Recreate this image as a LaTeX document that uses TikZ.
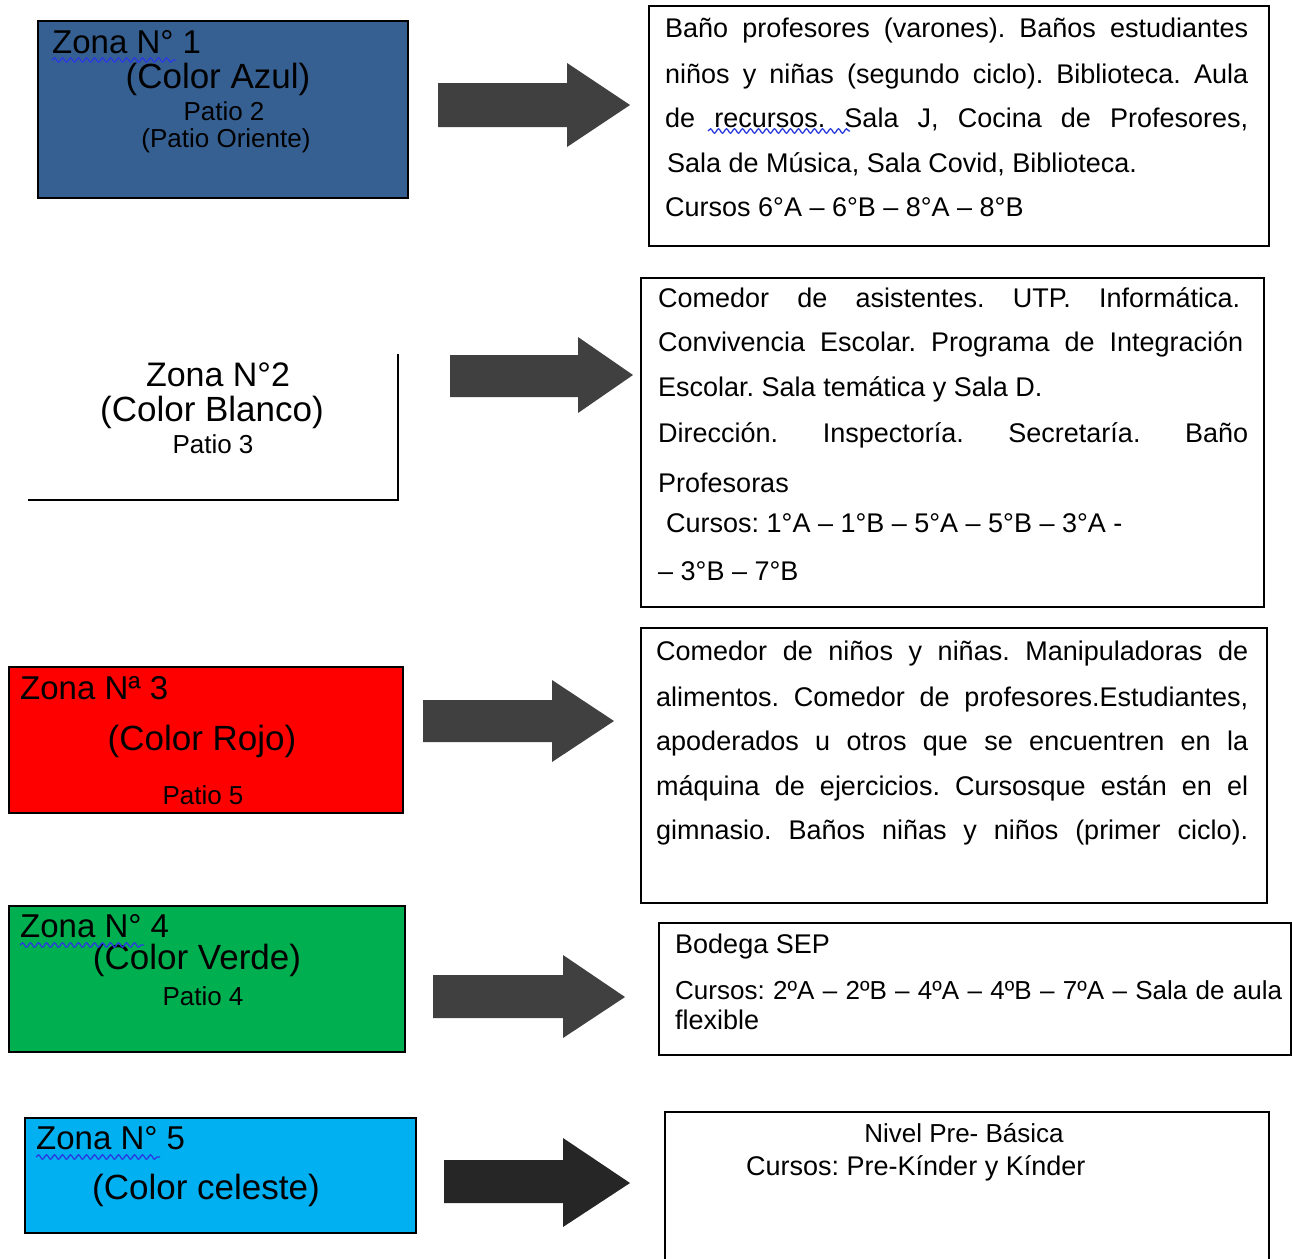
\documentclass[tikz,border=0pt]{standalone}
\usepackage{fontspec}
\setmainfont{Liberation Sans}
\usetikzlibrary{decorations.pathmorphing}
\definecolor{zblue}{HTML}{376092}
\definecolor{zred}{HTML}{FF0000}
\definecolor{zgreen}{HTML}{00B050}
\definecolor{zcyan}{HTML}{00B0F0}
\definecolor{arrowgray}{HTML}{404040}
\definecolor{arrowdark}{HTML}{262626}
\definecolor{spellblue}{HTML}{2B3BE0}
\newcommand{\jl}[2]{\makebox[#1][s]{#2}}
\frenchspacing
\begin{document}
\frenchspacing
\begin{tikzpicture}[x=1pt,y=-1pt,
  zbox/.style={draw=black,line width=1.8pt,anchor=north west,inner sep=0pt},
  rbox/.style={draw=black,line width=1.8pt,fill=white,anchor=north west,inner sep=0pt},
  blockarrow/.style={fill=arrowgray,draw=none},
  hd/.style={inner sep=0pt,anchor=base west,font=\fontsize{33}{38}\selectfont},
  cl/.style={inner sep=0pt,font=\fontsize{35}{40}\selectfont},
  pt/.style={inner sep=0pt,font=\fontsize{26}{30}\selectfont},
  rt/.style={inner sep=0pt,anchor=base west,font=\fontsize{27}{30}\selectfont\frenchspacing},
  wavy/.style={draw=spellblue,line width=1.3pt,decorate,decoration={snake,amplitude=2.2pt,segment length=8pt}}]
\useasboundingbox (0,0) rectangle (1292,1258);
\clip (0,0) rectangle (1292,1258);

% ---------- Zona 1 ----------
\node[zbox,fill=zblue,minimum width=370pt,minimum height=177pt] (z1) at (37,20) {};
\node[hd] (z1a) at (52,53) {Zona N° 1};
\node[cl] (z1b) at (218,79) {(Color Azul)};
\node[pt] (z1c) at (224,111) {Patio 2};
\node[pt] (z1d) at (226,141) {(Patio Oriente)};
\draw[wavy] (52,60) -- (176,60);
\draw[blockarrow] (438,83) -- (567,83) -- (567,63) -- (630,105) -- (567,147) -- (567,127) -- (438,127) -- cycle;
\node[rbox,minimum width=620pt,minimum height=240pt] (r1) at (648,5) {};
\node[rt] (r1a) at (665,37) {\jl{583pt}{Baño profesores (varones). Baños estudiantes}};
\node[rt] (r1b) at (665,83) {\jl{583pt}{niños y niñas (segundo ciclo). Biblioteca. Aula}};
\node[rt] (r1c) at (665,127) {\jl{583pt}{de recursos. Sala J, Cocina de Profesores,}};
\node[rt] (r1d) at (667,172) {Sala de Música, Sala Covid, Biblioteca.};
\node[rt] (r1e) at (665,216) {Cursos 6°A – 6°B – 8°A – 8°B};
\draw[wavy] (708,131) -- (850,131);

% ---------- Zona 2 ----------
\coordinate (z2l) at (28,500);
\coordinate (z2c) at (398,500);
\coordinate (z2t) at (398,354);
\draw[line width=1.8pt] (z2l) -- (z2c) -- (z2t);
\node[cl,font=\fontsize{34}{40}\selectfont] (z2a) at (218,375) {Zona N°2};
\node[cl] (z2b) at (212,412) {(Color Blanco)};
\node[pt] (z2p) at (213,444) {Patio 3};
\draw[blockarrow] (450,355) -- (578,355) -- (578,337) -- (633,375) -- (578,413) -- (578,397) -- (450,397) -- cycle;
\node[rbox,minimum width=623pt,minimum height=329pt] (r2) at (640,277) {};
\node[rt] (r2a) at (658,307) {\jl{582pt}{Comedor de asistentes. UTP. Informática.}};
\node[rt] (r2b) at (658,351) {\jl{585pt}{Convivencia Escolar. Programa de Integración}};
\node[rt] (r2c) at (658,396) {Escolar. Sala temática y Sala D.};
\node[rt] (r2d) at (658,442) {\jl{590pt}{Dirección. Inspectoría. Secretaría. Baño}};
\node[rt] (r2e) at (658,492) {Profesoras};
\node[rt] (r2f) at (666,532) {Cursos: 1°A – 1°B – 5°A – 5°B – 3°A -};
\node[rt] (r2g) at (658,580) {– 3°B – 7°B};

% ---------- Zona 3 ----------
\node[zbox,fill=zred,minimum width=394pt,minimum height=146pt] (z3) at (8,666) {};
\node[hd] (z3a) at (20,699) {Zona Nª 3};
\node[cl] (z3b) at (202,741) {(Color Rojo)};
\node[pt] (z3c) at (203,795) {Patio 5};
\draw[blockarrow] (423,700) -- (552,700) -- (552,680) -- (614,721) -- (552,762) -- (552,742) -- (423,742) -- cycle;
\node[rbox,minimum width=626pt,minimum height=275pt] (r3) at (640,627) {};
\node[rt] (r3a) at (656,660) {\jl{592pt}{Comedor de niños y niñas. Manipuladoras de}};
\node[rt] (r3b) at (656,706) {\jl{592pt}{alimentos. Comedor de profesores.Estudiantes,}};
\node[rt] (r3c) at (656,750) {\jl{592pt}{apoderados u otros que se encuentren en la}};
\node[rt] (r3d) at (656,795) {\jl{592pt}{máquina de ejercicios. Cursosque están en el}};
\node[rt] (r3e) at (656,839) {\jl{592pt}{gimnasio. Baños niñas y niños (primer ciclo).}};

% ---------- Zona 4 ----------
\node[zbox,fill=zgreen,minimum width=396pt,minimum height=146pt] (z4) at (8,905) {};
\node[hd] (z4a) at (20,937) {Zona N° 4};
\node[cl] (z4b) at (197,960) {(Color Verde)};
\node[pt] (z4c) at (203,996) {Patio 4};
\draw[wavy] (20,945) -- (144,945);
\draw[blockarrow] (433,975) -- (563,975) -- (563,955) -- (625,997) -- (563,1038) -- (563,1018) -- (433,1018) -- cycle;
\node[rbox,minimum width=632pt,minimum height=132pt] (r4) at (658,922) {};
\node[rt] (r4a) at (675,953) {Bodega SEP};
\node[rt,font=\fontsize{26}{30}\selectfont\frenchspacing] (r4b) at (675,999) {\jl{607pt}{Cursos: 2ºA – 2ºB – 4ºA – 4ºB – 7ºA – Sala de aula}};
\node[rt] (r4c) at (675,1029) {flexible};

% ---------- Zona 5 ----------
\node[zbox,fill=zcyan,minimum width=391pt,minimum height=115pt] (z5) at (24,1117) {};
\node[hd] (z5a) at (36,1149) {Zona N° 5};
\node[cl] (z5b) at (206,1190) {(Color celeste)};
\draw[wavy] (36,1157) -- (160,1157);
\draw[blockarrow,fill=arrowdark] (444,1160) -- (563,1160) -- (563,1138) -- (630,1183) -- (563,1227) -- (563,1203) -- (444,1203) -- cycle;
\node[rbox,minimum width=604pt,minimum height=160pt] (r5) at (664,1111) {};
\node[pt,anchor=base] (r5a) at (964,1142) {Nivel Pre- Básica};
\node[rt] (r5b) at (746,1175) {Cursos: Pre-Kínder y Kínder};
\end{tikzpicture}
\end{document}
